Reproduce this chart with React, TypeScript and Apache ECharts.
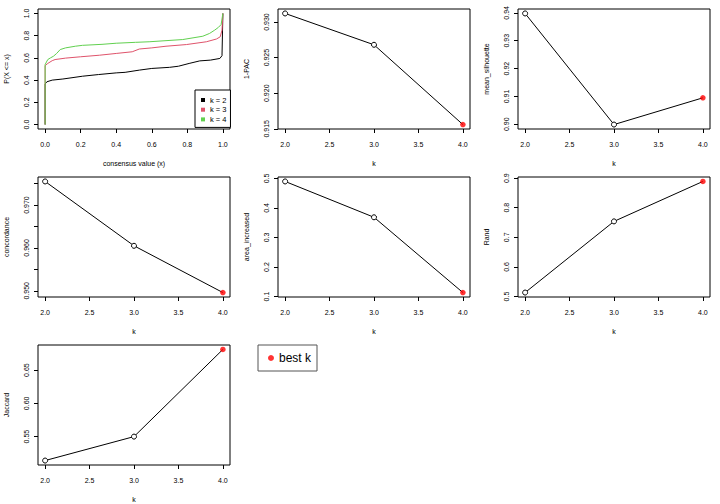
import React, { useEffect, useRef } from "react";
import * as echarts from "echarts";

// ---- data ----
const kValues = [2, 3, 4];
const bestK = 4;
const onePAC = [0.9312, 0.9268, 0.9156];
const meanSilhouette = [0.9398, 0.8999, 0.9095];
const concordance = [0.9755, 0.9605, 0.9496];
const areaIncreased = [0.4899, 0.3685, 0.1135];
const rand = [0.5135, 0.7539, 0.8888];
const jaccard = [0.514, 0.55, 0.681];

const kTicks = [2, 2.5, 3, 3.5, 4];
const cdfTicks = [0, 0.2, 0.4, 0.6, 0.8, 1];
const pacTicks = [0.915, 0.92, 0.925, 0.93];
const silTicks = [0.9, 0.91, 0.92, 0.93, 0.94];
const concTicks = [0.95, 0.955, 0.96, 0.965, 0.97, 0.975];
const concLabels = [0.95, 0.96, 0.97];
const areaTicks = [0.1, 0.2, 0.3, 0.4, 0.5];
const randTicks = [0.5, 0.6, 0.7, 0.8, 0.9];
const jacTicks = [0.55, 0.6, 0.65];

const ecdfK2x = [0, 0, 0.01, 0.04, 0.1, 0.21, 0.3, 0.4, 0.45, 0.53, 0.6, 0.7, 0.75, 0.81, 0.87, 0.93, 0.983, 0.995, 1.0];
const ecdfK2y = [0, 0.365, 0.385, 0.4, 0.41, 0.435, 0.45, 0.465, 0.47, 0.49, 0.505, 0.515, 0.525, 0.55, 0.573, 0.58, 0.595, 0.62, 1.0];
const ecdfK3x = [0, 0, 0.015, 0.04, 0.056, 0.115, 0.2, 0.305, 0.4, 0.49, 0.53, 0.6, 0.68, 0.795, 0.907, 0.964, 0.985, 0.995, 1.0];
const ecdfK3y = [0, 0.53, 0.55, 0.575, 0.585, 0.598, 0.61, 0.624, 0.64, 0.655, 0.68, 0.69, 0.705, 0.72, 0.745, 0.77, 0.79, 0.85, 1.0];
const ecdfK4x = [0, 0, 0.015, 0.03, 0.047, 0.065, 0.085, 0.115, 0.17, 0.21, 0.32, 0.4, 0.508, 0.585, 0.774, 0.887, 0.925, 0.954, 0.975, 0.99, 1.0];
const ecdfK4y = [0, 0.54, 0.585, 0.6, 0.615, 0.64, 0.675, 0.69, 0.705, 0.713, 0.722, 0.732, 0.74, 0.745, 0.765, 0.795, 0.82, 0.85, 0.875, 0.9, 1.0];

const ecdfNames = ["k = 2", "k = 3", "k = 4"];
const ecdfColors = ["#000000", "#DF536B", "#61D04F"];

const FONT = "Liberation Sans, Arial, Helvetica, sans-serif";

type Metric = { name: string; vals: number[]; ticks: number[]; labels?: number[]; dec: number };
const metrics: Metric[] = [
  { name: "1-PAC", vals: onePAC, ticks: pacTicks, dec: 3 },
  { name: "mean_silhouette", vals: meanSilhouette, ticks: silTicks, dec: 2 },
  { name: "concordance", vals: concordance, ticks: concTicks, labels: concLabels, dec: 3 },
  { name: "area_increased", vals: areaIncreased, ticks: areaTicks, dec: 1 },
  { name: "Rand", vals: rand, ticks: randTicks, dec: 1 },
  { name: "Jaccard", vals: jaccard, ticks: jacTicks, dec: 2 },
];

function rRange(v: number[]): [number, number] {
  const lo = Math.min(...v), hi = Math.max(...v);
  const e = (hi - lo) * 0.04;
  return [lo - e, hi + e];
}

export default function App() {
  const ref = useRef<HTMLDivElement>(null);
  useEffect(() => {
    if (!ref.current) return;
    const chart = echarts.init(ref.current, undefined, { renderer: "svg" });
    const grids: any[] = [];
    const xAxes: any[] = [];
    const yAxes: any[] = [];
    const series: any[] = [];
    const txt = { fontSize: 7, color: "#000", fontFamily: FONT };

    const mkX = (gi: number, name: string, min: number, max: number, ticks: number[], dec: number) => ({
      type: "value", gridIndex: gi, min, max, name, nameLocation: "middle", nameGap: 31,
      nameTextStyle: { ...txt },
      splitLine: { show: false }, axisLine: { show: false, onZero: false },
      axisTick: { show: true, length: 4, customValues: ticks, lineStyle: { color: "#000" } },
      axisLabel: { customValues: ticks, margin: 12, formatter: (v: number) => v.toFixed(dec), ...txt },
    });
    const mkY = (gi: number, name: string, min: number, max: number, ticks: number[], labels: number[], dec: number) => ({
      type: "value", gridIndex: gi, min, max, name, nameLocation: "middle", nameGap: 28,
      nameTextStyle: { ...txt },
      splitLine: { show: false }, axisLine: { show: false, onZero: false },
      axisTick: { show: true, length: 4, customValues: ticks, lineStyle: { color: "#000" } },
      axisLabel: { customValues: labels, rotate: 90, margin: 8, formatter: (v: number) => v.toFixed(dec), ...txt },
    });

    const panels = 7;
    for (let p = 0; p < panels; p++) {
      const c = p % 3, r = Math.floor(p / 3);
      grids.push({ left: c * 240 + 38, top: r * 168 + 9, width: 192, height: 120, show: true, borderColor: "#000", borderWidth: 1, backgroundColor: "transparent" });
    }

    // panel 0: ECDF
    xAxes.push(mkX(0, "consensus value (x)", -0.04, 1.04, cdfTicks, 1));
    yAxes.push(mkY(0, "P(X <= x)", -0.04, 1.04, cdfTicks, cdfTicks, 1));
    const ex = [ecdfK2x, ecdfK3x, ecdfK4x];
    const ey = [ecdfK2y, ecdfK3y, ecdfK4y];
    for (let i = 0; i < 3; i++) {
      series.push({
        type: "line", name: ecdfNames[i], xAxisIndex: 0, yAxisIndex: 0, showSymbol: false, symbol: "none",
        data: ex[i].map((x, j) => [x, ey[i][j]]), color: ecdfColors[i],
        lineStyle: { width: 1, color: ecdfColors[i] },
      });
    }

    const bi = kValues.indexOf(bestK);
    metrics.forEach((m, idx) => {
      const gi = idx + 1;
      const [lo, hi] = rRange(m.vals);
      xAxes.push(mkX(gi, "k", 1.92, 4.08, kTicks, 1));
      yAxes.push(mkY(gi, m.name, lo, hi, m.ticks, m.labels || m.ticks, m.dec));
      series.push({
        type: "line", name: m.name, xAxisIndex: gi, yAxisIndex: gi, symbol: "circle", symbolSize: 5,
        data: kValues.map((k, i) =>
          i === bi
            ? { value: [k, m.vals[i]], symbol: "none" }
            : { value: [k, m.vals[i]] }
        ),
        lineStyle: { width: 1, color: "#000" },
        itemStyle: { color: "#fff", borderColor: "#000", borderWidth: 1 },
      });
      series.push({
        type: "scatter", name: "best k", xAxisIndex: gi, yAxisIndex: gi, symbol: "circle", symbolSize: 5.5,
        data: [[bestK, m.vals[bi]]], color: "#FF0000", itemStyle: { color: "#FF0000" }, z: 5,
      });
    });

    chart.setOption({
      animation: false,
      backgroundColor: "#fff",
      textStyle: { fontFamily: FONT },
      grid: grids,
      xAxis: xAxes,
      yAxis: yAxes,
      series,
      legend: [
        {
          data: ecdfNames, orient: "vertical", left: 195, top: 90, selectedMode: false,
          icon: "rect", itemWidth: 4, itemHeight: 4, itemGap: 1.7,
          padding: [6, 4, 4, 6], borderColor: "#000", borderWidth: 1, backgroundColor: "#fff",
          textStyle: { fontSize: 7.5, color: "#000", fontFamily: FONT, lineHeight: 8 },
        },
        {
          data: ["best k"], left: 258, top: 345, selectedMode: false,
          icon: "circle", itemWidth: 6, itemHeight: 6,
          padding: [7, 6, 7, 10], borderColor: "#555", borderWidth: 1,
          textStyle: { fontSize: 12, color: "#000", fontFamily: FONT },
        },
      ],
    });
    return () => chart.dispose();
  }, []);
  return <div ref={ref} style={{ position: "fixed", left: 0, top: 0, width: 720, height: 504, background: "#fff" }} />;
}
